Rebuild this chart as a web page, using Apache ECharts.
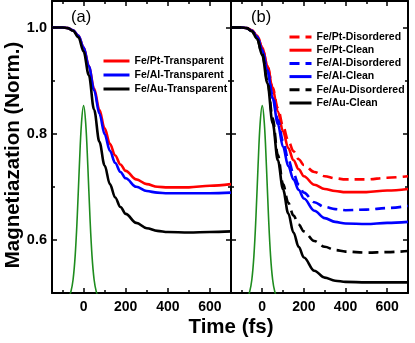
<!DOCTYPE html>
<html>
<head>
<meta charset="utf-8">
<script src="https://cdn.jsdelivr.net/npm/echarts@6/dist/echarts.min.js"></script>
<style>html,body{margin:0;padding:0;background:#fff;}#c{width:415px;height:343px;}</style>
</head>
<body>
<div id="c"></div>
<script>
// ---- data ----
var times = [-150, -100, -75, -50, -25, 0, 25, 50, 75, 100, 125, 150, 175, 200, 250, 300, 350, 400, 500, 600, 700];

// panel (a)
var ptTransparent = [1.0, 1.0, 0.999, 0.995, 0.985, 0.963, 0.928, 0.885, 0.845, 0.81, 0.781, 0.759, 0.742, 0.73, 0.714, 0.705, 0.70, 0.699, 0.699, 0.702, 0.705];
var alTransparent = [1.0, 1.0, 0.999, 0.995, 0.985, 0.963, 0.927, 0.882, 0.838, 0.799, 0.768, 0.745, 0.728, 0.716, 0.70, 0.692, 0.689, 0.688, 0.688, 0.688, 0.689];
var auTransparent = [1.0, 1.0, 0.999, 0.994, 0.982, 0.955, 0.91, 0.845, 0.785, 0.74, 0.705, 0.68, 0.662, 0.649, 0.632, 0.622, 0.617, 0.615, 0.614, 0.615, 0.616];

// panel (b)
var ptDisordered = [1.0, 1.0, 0.999, 0.995, 0.985, 0.963, 0.928, 0.887, 0.848, 0.814, 0.787, 0.767, 0.752, 0.741, 0.728, 0.72, 0.716, 0.714, 0.714, 0.717, 0.72];
var ptClean = [1.0, 1.0, 0.999, 0.995, 0.985, 0.963, 0.928, 0.885, 0.842, 0.804, 0.773, 0.75, 0.733, 0.72, 0.704, 0.696, 0.692, 0.69, 0.69, 0.693, 0.696];
var alDisordered = [1.0, 1.0, 0.999, 0.994, 0.983, 0.958, 0.92, 0.872, 0.826, 0.786, 0.752, 0.725, 0.704, 0.689, 0.671, 0.662, 0.658, 0.656, 0.657, 0.66, 0.664];
var alClean = [1.0, 1.0, 0.999, 0.994, 0.983, 0.958, 0.918, 0.867, 0.818, 0.775, 0.739, 0.714, 0.694, 0.678, 0.655, 0.641, 0.634, 0.631, 0.63, 0.632, 0.634];
var auDisordered = [1.0, 1.0, 0.999, 0.993, 0.979, 0.95, 0.90, 0.83, 0.76, 0.705, 0.67, 0.646, 0.629, 0.616, 0.598, 0.587, 0.581, 0.578, 0.576, 0.577, 0.579];
var auClean = [1.0, 1.0, 0.999, 0.993, 0.979, 0.948, 0.895, 0.82, 0.75, 0.695, 0.65, 0.614, 0.587, 0.567, 0.542, 0.529, 0.523, 0.521, 0.52, 0.52, 0.52];

// laser pulse (green)
var pulseTimes = [-80, -70, -60, -50, -40, -30, -20, -10, 0, 10, 20, 30, 40, 50, 60, 70, 80];
var pulseValues = [0.49, 0.493, 0.503, 0.525, 0.57, 0.645, 0.74, 0.82, 0.853, 0.82, 0.74, 0.645, 0.57, 0.525, 0.503, 0.493, 0.49];

// ticks
var xMajor = [0, 200, 400, 600];
var xMinor = [-100, 100, 300, 500];
var yMajor = [0.6, 0.8, 1.0];
var yMinor = [0.7, 0.9];
var xMin = -150, xMax = 700, yMin = 0.5, yMax = 1.05;

var namesA = ['Fe/Pt-Transparent', 'Fe/Al-Transparent', 'Fe/Au-Transparent'];
var namesB = ['Fe/Pt-Disordered', 'Fe/Pt-Clean', 'Fe/Al-Disordered', 'Fe/Al-Clean', 'Fe/Au-Disordered', 'Fe/Au-Clean'];

function zip(xs, ys) { return xs.map(function (x, i) { return [x, ys[i]]; }); }

var FONT = 'Liberation Sans, Arial, sans-serif';

function xAx(grid, pos, major, labels) {
  return {
    type: 'value', gridIndex: grid, position: pos, min: xMin, max: xMax,
    axisLine: { show: major, onZero: false, lineStyle: { color: '#000', width: 2 } },
    axisTick: { show: true, inside: true, length: major ? 5 : 3, lineStyle: { color: '#000', width: 1.5 },
                customValues: major ? xMajor : xMinor },
    axisLabel: { show: labels, customValues: xMajor, margin: 7, color: '#000', fontWeight: 'bold', fontSize: 14, fontFamily: FONT },
    splitLine: { show: false }
  };
}
function yAx(grid, pos, major, labels) {
  return {
    type: 'value', gridIndex: grid, position: pos, min: yMin, max: yMax,
    axisLine: { show: major, onZero: false, lineStyle: { color: '#000', width: 2 } },
    axisTick: { show: true, inside: true, length: major ? 5 : 3, lineStyle: { color: '#000', width: 1.5 },
                customValues: major ? yMajor : yMinor },
    axisLabel: { show: labels, customValues: yMajor, margin: 5, color: '#000', fontWeight: 'bold', fontSize: 14.5, fontFamily: FONT,
                 formatter: function (v) { return v.toFixed(1); } },
    splitLine: { show: false }
  };
}

var xAxes = [], yAxes = [];
[0, 1].forEach(function (g) {
  xAxes.push(xAx(g, 'bottom', true, true), xAx(g, 'bottom', false, false), xAx(g, 'top', true, false), xAx(g, 'top', false, false));
  yAxes.push(yAx(g, 'left', true, g === 0), yAx(g, 'left', false, false), yAx(g, 'right', true, false), yAx(g, 'right', false, false));
});

function line(name, data, color, dashed, g) {
  return {
    name: name, type: 'line', xAxisIndex: g * 4, yAxisIndex: g * 4,
    data: zip(times, data), showSymbol: false, symbol: 'none', smooth: 0.35, smoothMonotone: 'x',
    lineStyle: { color: color, width: 2.6, type: dashed ? [10, 6] : 'solid' },
    itemStyle: { color: color }, z: 3
  };
}
function pulse(g) {
  return {
    type: 'line', xAxisIndex: g * 4, yAxisIndex: g * 4, data: zip(pulseTimes, pulseValues),
    showSymbol: false, symbol: 'none', smooth: 0.4, lineStyle: { color: '#1e8c1e', width: 1.6 }, z: 2, silent: true
  };
}

var series = [
  line(namesA[0], ptTransparent, '#ff0000', false, 0),
  line(namesA[1], alTransparent, '#0000ff', false, 0),
  line(namesA[2], auTransparent, '#000000', false, 0),
  pulse(0),
  line(namesB[0], ptDisordered, '#ff0000', true, 1),
  line(namesB[1], ptClean, '#ff0000', false, 1),
  line(namesB[2], alDisordered, '#0000ff', true, 1),
  line(namesB[3], alClean, '#0000ff', false, 1),
  line(namesB[4], auDisordered, '#000000', true, 1),
  line(namesB[5], auClean, '#000000', false, 1),
  pulse(1)
];

var legendText = { color: '#000', fontWeight: 'bold', fontSize: 10.5, fontFamily: FONT, lineHeight: 12 };

var chart = echarts.init(document.getElementById('c'), null, { renderer: 'canvas' });
chart.setOption({
  animation: false,
  backgroundColor: '#fff',
  grid: [
    { left: 52, top: 1, width: 179, height: 292 },
    { left: 231, top: 1, width: 177, height: 292 }
  ],
  xAxis: xAxes,
  yAxis: yAxes,
  legend: [
    { data: namesA, orient: 'vertical', left: 102, top: 55, itemWidth: 26, itemHeight: 12, itemGap: 2,
      itemStyle: { opacity: 0 }, lineStyle: { width: 3 },
      textStyle: legendText, selectedMode: false, padding: 0 },
    { data: namesB, orient: 'vertical', left: 288, top: 31, itemWidth: 22, itemHeight: 12, itemGap: 1.2,
      itemStyle: { opacity: 0 }, lineStyle: { width: 3 },
      textStyle: legendText, selectedMode: false, padding: 0 }
  ],
  graphic: [
    { type: 'text', left: 71, top: 9, style: { text: '(a)', fontSize: 16.5, fontFamily: FONT, fill: '#000' } },
    { type: 'text', left: 251, top: 9, style: { text: '(b)', fontSize: 16.5, fontFamily: FONT, fill: '#000' } },
    { type: 'text', x: 13, y: 155, rotation: Math.PI / 2,
      style: { text: 'Magnetiazation (Norm.)', fontSize: 20.5, fontWeight: 'bold', fontFamily: FONT, fill: '#000', align: 'center', verticalAlign: 'middle' } },
    { type: 'text', x: 231, y: 327,
      style: { text: 'Time (fs)', fontSize: 20.5, fontWeight: 'bold', fontFamily: FONT, fill: '#000', align: 'center', verticalAlign: 'middle' } }
  ],
  series: series
});
</script>
</body>
</html>
